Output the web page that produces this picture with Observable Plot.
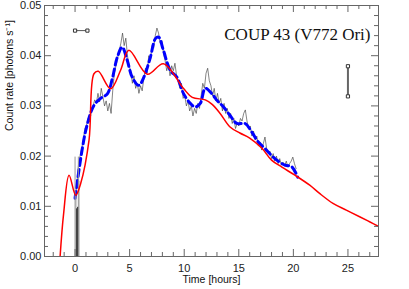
<!DOCTYPE html>
<html>
<head>
<meta charset="utf-8">
<script src="https://cdn.jsdelivr.net/npm/d3@7"></script>
<script src="https://cdn.jsdelivr.net/npm/@observablehq/plot@0.6"></script>
<style>
  html, body { margin: 0; padding: 0; background: #fff; }
  #chart svg { display: block; }
</style>
</head>
<body>
<div id="chart"></div>
<script>
// ---- Data ----
const title = "COUP 43 (V772 Ori)";
const xLabel = "Time [hours]";
const yLabel = "Count rate [photons s\u207B\u00B9]";

const xTicks = [0, 5, 10, 15, 20, 25];
const xMinorTicks = [-2, -1, 1, 2, 3, 4, 6, 7, 8, 9, 11, 12, 13, 14, 16, 17, 18, 19, 21, 22, 23, 24, 26, 27];
const yTicks = [0.00, 0.01, 0.02, 0.03, 0.04, 0.05];
const yMinorTicks = [0.002, 0.004, 0.006, 0.008, 0.012, 0.014, 0.016, 0.018, 0.022, 0.024, 0.026, 0.028,
                     0.032, 0.034, 0.036, 0.038, 0.042, 0.044, 0.046, 0.048];

// observed light curve (thin black)
const obsTime = [0.0,0.15,0.3,0.45,0.6,0.75,0.9,1.05,1.2,1.35,1.5,1.65,1.8,1.95,2.1,2.25,2.4,2.55,2.7,2.85,
  3.0,3.15,3.3,3.45,3.6,3.75,3.9,4.05,4.2,4.35,4.5,4.65,4.8,4.95,5.1,5.25,5.4,5.55,5.7,5.85,
  6.0,6.15,6.3,6.45,6.6,6.75,6.9,7.05,7.2,7.35,7.5,7.65,7.8,7.95,8.1,8.25,8.4,8.55,8.7,8.85,
  9.0,9.15,9.3,9.45,9.6,9.75,9.9,10.05,10.2,10.35,10.5,10.65,10.8,10.95,11.1,11.25,11.4,11.55,11.7,11.85,
  12.0,12.15,12.3,12.45,12.6,12.75,12.9,13.05,13.2,13.35,13.5,13.65,13.8,13.95,14.1,14.25,14.4,14.55,14.7,14.85,
  15.0,15.15,15.3,15.45,15.6,15.75,15.9,16.05,16.2,16.35,16.5,16.65,16.8,16.95,17.1,17.25,17.4,17.55,17.7,17.85,
  18.0,18.15,18.3,18.45,18.6,18.75,18.9,19.05,19.2,19.35,19.5,19.65,19.8,19.95,20.1,20.25];
const obsRate = [0.0115,0.0140,0.0180,0.0200,0.0215,0.0232,0.0255,0.0262,0.0275,0.0268,0.0292,0.0300,0.0312,0.0305,0.0325,0.0308,0.0335,0.0318,0.0300,0.0310,
  0.0290,0.0305,0.0285,0.0330,0.0365,0.0380,0.0395,0.0410,0.0425,0.0445,0.0420,0.0435,0.0400,0.0380,0.0370,0.0345,0.0360,0.0335,0.0345,0.0325,
  0.0340,0.0330,0.0355,0.0375,0.0365,0.0400,0.0390,0.0420,0.0415,0.0440,0.0455,0.0445,0.0425,0.0430,0.0405,0.0390,0.0370,0.0385,0.0360,0.0380,
  0.0370,0.0385,0.0360,0.0350,0.0335,0.0345,0.0315,0.0320,0.0300,0.0310,0.0290,0.0300,0.0280,0.0295,0.0285,0.0305,0.0295,0.0320,0.0345,0.0335,
  0.0365,0.0375,0.0350,0.0340,0.0320,0.0335,0.0310,0.0325,0.0305,0.0315,0.0290,0.0305,0.0285,0.0295,0.0275,0.0285,0.0265,0.0275,0.0255,0.0265,
  0.0260,0.0275,0.0270,0.0285,0.0292,0.0270,0.0255,0.0260,0.0240,0.0250,0.0232,0.0240,0.0220,0.0228,0.0212,0.0225,0.0238,0.0215,0.0205,0.0210,
  0.0195,0.0205,0.0190,0.0200,0.0185,0.0195,0.0182,0.0188,0.0180,0.0190,0.0178,0.0185,0.0190,0.0198,0.0185,0.0175];

// smoothed light curve (blue dashed)
const smoothTime = [0.0,0.98,1.73,2.34,2.96,3.41,3.87,4.32,4.78,5.24,5.84,6.3,6.9,7.36,7.66,8.09,8.72,9.34,9.95,10.56,
  11.0,11.47,11.93,12.54,13.0,13.6,14.2,14.82,15.57,16.19,16.79,17.4,18.31,19.23,19.84,20.4];
const smoothRate = [0.0116,0.0251,0.0301,0.0315,0.0324,0.0354,0.0397,0.0417,0.0391,0.0357,0.0341,0.0357,0.0397,0.0434,0.0437,0.0411,0.0371,0.0357,0.0324,0.0305,
  0.0298,0.0305,0.0335,0.0324,0.0311,0.0298,0.0281,0.0265,0.0265,0.0248,0.0228,0.0215,0.0195,0.0182,0.0179,0.0158];

// model curve (red)
const modelTime = [-1.37,-1.05,-0.55,0.06,0.52,1.28,1.73,2.13,3.26,4.17,4.93,6.63,8.09,9.92,10.74,11.93,12.56,13.29,14.2,15.1,
  16.0,17.1,18.0,18.95,20.14,21.5,22.4,23.63,24.85,26.07,26.98,27.8];
const modelRate = [0.0,0.0085,0.0162,0.0122,0.0146,0.0232,0.0364,0.0369,0.0334,0.0371,0.0411,0.0363,0.0384,0.0335,0.0317,0.0312,0.0303,0.0285,0.0258,0.0246,
  0.0236,0.0216,0.0192,0.0178,0.0162,0.0142,0.01256,0.01058,0.00924,0.00791,0.00692,0.0060];

// gray bars at the start of the observation
const lightBarTime = [0.0, 0.08, 0.3, 0.36];
const lightBarTop = [0.0198, 0.0120, 0.0198, 0.0150];
const darkBarTime = [0.14, 0.23];
const darkBarTop = [0.0095, 0.0098];

// error-bar markers
const hErrX = [0.0, 1.13];
const hErrY = 0.045;
const vErrX = 25;
const vErrY = [0.0319, 0.0379];

// ---- Build tables ----
const obs = obsTime.map((t, i) => ({t, v: obsRate[i]}));
const smooth = smoothTime.map((t, i) => ({t, v: smoothRate[i]}));
const model = modelTime.map((t, i) => ({t, v: modelRate[i]}));
const lightBars = lightBarTime.map((t, i) => ({t, v: lightBarTop[i]}));
const darkBars = darkBarTime.map((t, i) => ({t, v: darkBarTop[i]}));
const hErr = hErrX.map(t => ({t, v: hErrY}));
const vErr = vErrY.map(v => ({t: vErrX, v}));

// ---- Layout ----
const W = 409, H = 289;
const mL = 44, mR = 31, mT = 5, mB = 33;
const pw = W - mL - mR, ph = H - mT - mB;
const major = 7, minor = 4;
const axisColor = "#666";

const chart = Plot.plot({
  width: W, height: H,
  marginLeft: mL, marginRight: mR, marginTop: mT, marginBottom: mB,
  style: {fontFamily: "'Liberation Sans', Arial, sans-serif", fontSize: "11px", color: "#222", background: "#fff", overflow: "visible"},
  x: {domain: [-2.8, 27.8], ticks: xTicks, tickSize: 0, tickPadding: 8, label: null},
  y: {domain: [0, 0.05], ticks: yTicks, tickSize: 0, tickPadding: 3, tickFormat: d3.format(".2f"), label: null},
  marks: [
    // observed
    Plot.line(obs, {x: "t", y: "v", stroke: "#333", strokeWidth: 0.6}),
    // smoothed
    Plot.line(smooth, {x: "t", y: "v", stroke: "#0000ff", strokeWidth: 3, strokeDasharray: "7,4", curve: "catmull-rom"}),
    // gray bars
    Plot.ruleX(lightBars, {x: "t", y1: 0, y2: "v", stroke: "#999", strokeWidth: 1}),
    Plot.ruleX(darkBars, {x: "t", y1: 0, y2: "v", stroke: "#444", strokeWidth: 1.2}),
    // model
    Plot.line(model, {x: "t", y: "v", stroke: "#ff0000", strokeWidth: 1.5, curve: "catmull-rom", clip: true}),
    // error bars
    Plot.line(hErr, {x: "t", y: "v", stroke: "#555", strokeWidth: 1}),
    Plot.dot(hErr, {x: "t", y: "v", symbol: "square", r: 1.8, stroke: "#333", fill: "#fff", strokeWidth: 1}),
    Plot.line(vErr, {x: "t", y: "v", stroke: "#666", strokeWidth: 2}),
    Plot.dot(vErr, {x: "t", y: "v", symbol: "square", r: 1.8, stroke: "#333", fill: "#fff", strokeWidth: 1}),
    // frame and inward ticks
    Plot.frame({stroke: axisColor}),
    Plot.ruleX(xTicks, {x: d => d, insetTop: ph - major, stroke: axisColor}),
    Plot.ruleX(xTicks, {x: d => d, insetBottom: ph - major, stroke: axisColor}),
    Plot.ruleX(xMinorTicks, {x: d => d, insetTop: ph - minor, stroke: axisColor}),
    Plot.ruleX(xMinorTicks, {x: d => d, insetBottom: ph - minor, stroke: axisColor}),
    Plot.ruleY(yTicks, {y: d => d, insetRight: pw - major, stroke: axisColor}),
    Plot.ruleY(yTicks, {y: d => d, insetLeft: pw - major, stroke: axisColor}),
    Plot.ruleY(yMinorTicks, {y: d => d, insetRight: pw - minor, stroke: axisColor}),
    Plot.ruleY(yMinorTicks, {y: d => d, insetLeft: pw - minor, stroke: axisColor}),
    // texts
    Plot.text([title], {frameAnchor: "top-right", dx: -8, dy: 34, lineAnchor: "bottom", textAnchor: "end",
      fontFamily: "'Liberation Serif', 'Times New Roman', serif", fontSize: 17, fill: "#111"}),
    Plot.text([xLabel], {frameAnchor: "bottom", dy: 26, lineAnchor: "bottom", fontSize: 10.5, fill: "#111"}),
    Plot.text([yLabel], {frameAnchor: "left", dx: -35, rotate: -90, lineAnchor: "middle", fontSize: 10.5, fill: "#111"})
  ]
});
document.getElementById("chart").appendChild(chart);
</script>
</body>
</html>
